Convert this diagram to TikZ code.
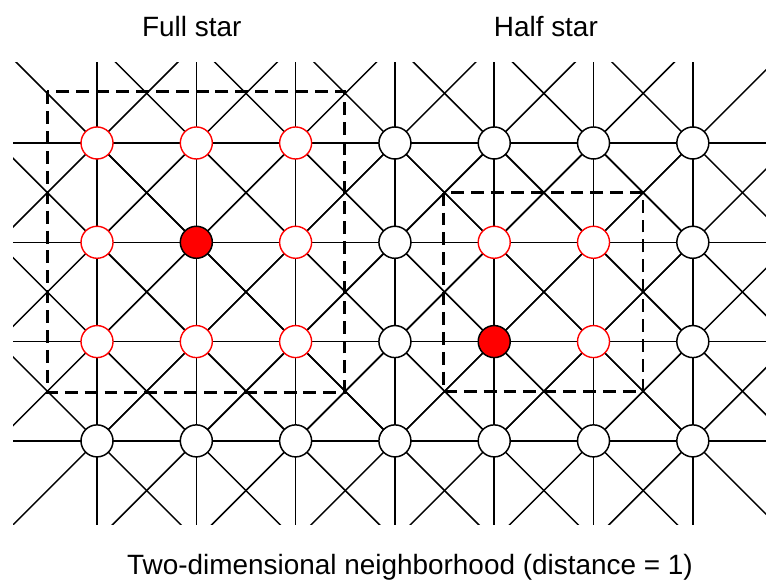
\documentclass[tikz,border=0pt]{standalone}
\usepackage{fontspec}
\setmainfont{Liberation Sans}
\usetikzlibrary{backgrounds}

\begin{document}
\begin{tikzpicture}[x=2cm,y=2cm,
  link/.style={draw=black,line width=0.85pt},
  site/.style={circle,draw=black,fill=white,line width=0.85pt,minimum size=0.645cm,inner sep=0pt},
  nbr/.style={site,draw=red,line width=0.8pt},
  centre/.style={site,fill=red},
  frame/.style={draw=black,line width=1.5pt,dash pattern=on 7.4pt off 4pt},
  label/.style={font=\fontsize{16}{19}\selectfont,anchor=base,inner sep=0pt},
]
\useasboundingbox (-0.977,1.44) rectangle (6.737,-4.431);
% lattice sites
\foreach \i/\j in {3/0,4/0,5/0,6/0,3/1,6/1,3/2,6/2,0/3,1/3,2/3,3/3,4/3,5/3,6/3}
  \node[site] (s\i\j) at (\i,-\j) {};
\foreach \i/\j in {0/0,1/0,2/0,0/1,2/1,0/2,1/2,2/2,4/1,5/1,5/2}
  \node[nbr] (s\i\j) at (\i,-\j) {};
\node[centre] (s11) at (1,-1) {};
\node[centre] (s42) at (4,-2) {};
% links in all eight directions
\begin{scope}[on background layer]
  \clip (-0.845,0.81) rectangle (6.9,-3.845);
  \foreach \i in {0,...,6}
    \foreach \j in {0,...,3}
      \foreach \a in {0,45,...,315}
        \draw[link] (s\i\j.center) -- ++(\a:1.5);
\end{scope}
% neighbourhood frames
\draw[frame] (-0.5,0.52) rectangle (2.49,-2.51);
\draw[frame] (3.49,-0.5) rectangle (5.5,-2.5);
\node[label] (full) at (0.954,1.07) {Full star};
\node[label] (half) at (4.52,1.07) {Half star};
\node[label] (caption) at (3.152,-4.35) {Two-dimensional neighborhood (distance = 1)};
\end{tikzpicture}
\end{document}
